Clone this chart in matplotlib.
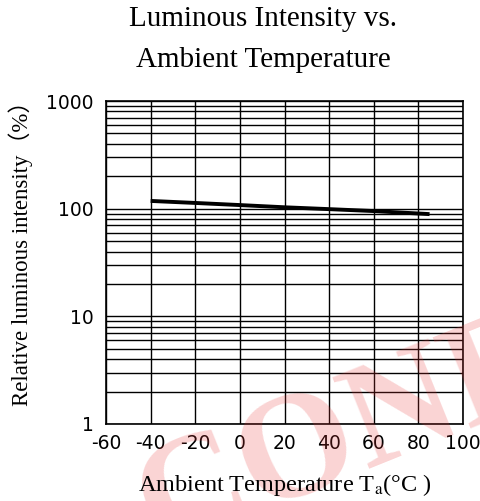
import matplotlib
matplotlib.use("Agg")
import matplotlib.pyplot as plt
from matplotlib.ticker import FixedLocator, NullFormatter, LogLocator

plt.rcParams['mathtext.fontset'] = 'stix'
plt.rcParams['axes.unicode_minus'] = False

# 数据
temps = [-40, -20, 0, 20, 40, 60, 85]
intensity = [118, 113, 108, 103, 99, 95, 89]

x_ticks = [-60, -40, -20, 0, 20, 40, 60, 80, 100]
y_ticks = [1, 10, 100, 1000]
y_tick_labels = ['1', '10', '100', '1000']

tick_font = ['DejaVu Sans']
serif_font = ['Liberation Serif', 'Noto Sans CJK SC', 'DejaVu Serif']

fig = plt.figure(figsize=(4.81, 5.01), dpi=100)
ax = fig.add_axes([0.2204, 0.1537, 0.7422, 0.6447])
ax.set_facecolor('none')

# 水印
fig.text(0.33, -0.10, 'CONFIDENTIAL', rotation=22, rotation_mode='anchor',
         ha='left', va='baseline', fontsize=108, fontweight='bold',
         family=serif_font, color='#e83a3a', alpha=0.22, zorder=0)

ax.set_yscale('log')
ax.set_xlim(-60, 100)
ax.set_ylim(1, 1000)

ax.xaxis.set_major_locator(FixedLocator(x_ticks))
ax.yaxis.set_major_locator(FixedLocator(y_ticks))
ax.yaxis.set_minor_locator(LogLocator(base=10, subs=range(2, 10)))
ax.yaxis.set_minor_formatter(NullFormatter())
ax.set_yticklabels(y_tick_labels)

ax.grid(True, which='both', axis='y', color='black', linewidth=1.0)
ax.grid(True, which='major', axis='x', color='black', linewidth=1.0)
ax.tick_params(which='both', length=0)
ax.tick_params(axis='x', pad=7)
ax.tick_params(axis='y', pad=9)
for lbl in ax.get_xticklabels() + ax.get_yticklabels():
    lbl.set_family(tick_font)
    lbl.set_fontsize(13.5)

for s in ax.spines.values():
    s.set_linewidth(1.2)
    s.set_color('black')

ax.plot(temps, intensity, color='black', linewidth=2.8, solid_capstyle='butt', zorder=5)

fig.text(0.547, 0.962, 'Luminous Intensity vs.', ha='center', va='center',
         fontsize=21, family=serif_font)
fig.text(0.547, 0.88, 'Ambient Temperature', ha='center', va='center',
         fontsize=21, family=serif_font)

fig.text(0.042, 0.505, 'Relative luminous intensity（%）', rotation=90,
         ha='center', va='center', fontsize=16.5, family=serif_font)
fig.text(0.592, 0.032, r'Ambient Temperature T$_{\mathrm{a}}$(°C )', ha='center',
         va='center', fontsize=17.5, family=serif_font)

fig.savefig('out.png', dpi=100, facecolor='white')
